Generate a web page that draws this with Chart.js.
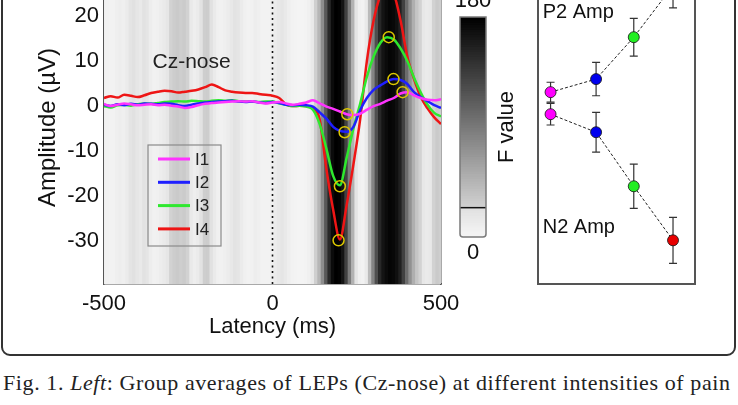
<!DOCTYPE html>
<html>
<head>
<meta charset="utf-8">
<script src="https://cdn.jsdelivr.net/npm/chart.js"></script>
<style>
  body { margin: 0; width: 738px; height: 405px; overflow: hidden; position: relative; background: #fff; }
  #frame { position: absolute; left: 1px; top: -30px; width: 735px; height: 386px; box-sizing: border-box;
           border: 2.5px solid #333; border-radius: 9px; }
  #mainBox { position: absolute; left: 0; top: -40px; width: 460px; height: 384px; }
  #barBox { position: absolute; left: 455px; top: -40px; width: 83px; height: 320px; }
  #ampBox { position: absolute; left: 536px; top: -40px; width: 161px; height: 326px; }
  #caption { position: absolute; left: 3px; top: 371px; font: 22px "Liberation Serif", serif; color: #222;
             white-space: nowrap; line-height: 24px; letter-spacing: 0.6px; }
</style>
</head>
<body>
<div id="frame"></div>
<div id="mainBox"><canvas id="lep"></canvas></div>
<div id="barBox"><canvas id="fbar"></canvas></div>
<div id="ampBox"><canvas id="amps"></canvas></div>
<div id="caption">Fig. 1. <i>Left</i>: Group averages of LEPs (Cz-nose) at different intensities of pain</div>

<script>
// ---- data ----
const latency = [-500,-480,-460,-440,-420,-400,-380,-360,-340,-320,-300,-280,-260,-240,-220,-200,-180,-160,-140,-120,-100,-80,-60,-40,-20,0,
                 20,40,60,80,100,120,140,160,180,200,220,240,260,280,300,320,340,360,380,400,420,440,460,480,500]

const ampI1 = [0.5,0.0,0.3,0.6,0.4,0.2,0.3,0.4,0.2,0.3,0.1,-0.1,-0.4,-0.2,0.2,0.5,0.7,0.8,0.9,1.0,1.1,1.0,1.1,0.8,0.6,0.8,
               0.9,0.6,0.3,0.5,0.8,1.3,0.6,-0.1,-0.6,-1.2,-1.8,-2.0,-1.7,-0.8,0.0,0.5,1.2,1.8,2.8,3.1,2.4,1.8,1.4,1.3,1.5]
const ampI2 = [0.3,0.0,0.4,0.2,0.5,0.3,0.6,0.5,0.4,0.6,0.5,0.2,0.0,0.3,0.6,0.8,0.9,1.0,1.1,1.2,1.0,0.9,1.0,0.8,0.7,0.9,
               0.7,0.3,0.2,0.3,0.2,-0.1,-1.4,-2.8,-4.6,-5.5,-5.7,-4.6,-0.9,1.8,3.6,4.6,5.5,6.0,5.8,4.9,3.1,2.0,1.1,0.2,-0.4]
const ampI3 = [0.0,-0.3,0.2,0.3,0.1,0.4,0.6,0.5,0.7,0.9,1.0,1.1,1.0,1.2,1.1,1.0,1.2,1.3,1.2,1.3,1.1,1.0,1.0,0.9,1.0,1.0,
               0.6,0.3,0.0,0.1,-0.1,-0.8,-4.0,-9.5,-15.5,-17.6,-11.5,-5.0,0.5,6.5,11,14,15.3,14.8,12.8,10,6.3,3.0,0.3,-1.5,-2.3]
const ampI4 = [1.8,2.2,1.9,2.5,2.3,2.0,2.4,2.9,3.2,3.4,3.3,3.0,3.2,3.4,3.7,4.2,4.8,4.2,3.5,3.2,3.0,2.9,2.9,2.7,2.5,2.3,
               1.8,0.4,0.0,0.1,0.0,-0.4,-3.0,-14,-23,-29.6,-22,-13,-3,10,19,24.5,26.7,25,19,11,6,2.0,-0.5,-2.5,-4.0]

// F value of the intensity effect, every 10 ms
const fTimes = [-500,-490,-480,-470,-460,-450,-440,-430,-420,-410,-400,-390,-380,-370,-360,-350,-340,-330,-320,-310,
                -300,-290,-280,-270,-260,-250,-240,-230,-220,-210,-200,-190,-180,-170,-160,-150,-140,-130,-120,-110,
                -100,-90,-80,-70,-60,-50,-40,-30,-20,-10,0,10,20,30,40,50,60,70,80,90,100,110,120,130,140,150,160,170,
                180,190,200,210,220,230,240,250,260,270,280,290,300,310,320,330,340,350,360,370,380,390,400,410,420,
                430,440,450,460,470,480,490,500]
const fValues = [8,6,5,5,8,10,8,12,20,23,18,14,22,19,10,6,7,10,13,18,
                 24,28,30,27,29,24,15,9,12,22,27,28,23,13,7,6,8,11,16,21,
                 19,12,7,5,6,10,8,5,4,5,7,11,16,19,14,9,5,3,2,2,3,7,14,26,45,75,115,150,
                 172,180,178,165,132,88,48,20,7,5,14,42,82,122,150,165,172,176,174,168,156,132,100,72,50,
                 34,24,17,13,16,24,30,27]

const seriesNames = ['I1','I2','I3','I4']
const seriesColors = ['#ff33ff','#1f1fff','#2ee82e','#ee1515']

// peak latencies (ms) and amplitudes (µV) per intensity
const n2Lat = [222,214,200,196]
const n2Amp = [-1.8,-5.8,-17.8,-29.8]
const n2Err = [2.4,4.4,4.9,5.1]
const p2Lat = [386,359,345,340]
const p2Amp = [3.1,6.0,15.3,26.7]
const p2Err = [2.2,3.7,4.2,4.9]
const intensityPos = [0.8,3.7,6.1,8.6]

const xTicks = [-500,0,500]
const yTicks = [-30,-20,-10,0,10,20]
const yMin = -39.5, yMax = 30
const fMax = 180, fThreshold = 24

function fGray(f) {
  let g = f < fThreshold ? 246 - f * 0.9 : 210 * (fMax - f) / (fMax - fThreshold)
  g = Math.max(0, Math.round(g))
  return 'rgb(' + g + ',' + g + ',' + g + ')'
}

Chart.defaults.font.family = '"Liberation Sans", Arial, sans-serif'
Chart.defaults.color = '#111'
Chart.defaults.animation = false
Chart.defaults.plugins.legend.display = false
Chart.defaults.plugins.tooltip.enabled = false

// ---- main LEP plot ----
const lepText = {
  id: 'lepText',
  afterDatasetsDraw(chart) {
    const {ctx, chartArea: a, scales: {x, y}} = chart
    ctx.save()
    ctx.fillStyle = '#222'
    ctx.font = '21px "Liberation Sans", Arial'
    ctx.textAlign = 'center'
    ctx.textBaseline = 'middle'
    ctx.fillText('Cz-nose', x.getPixelForValue(-240), y.getPixelForValue(9.8))

    // legend box
    const bx = a.left + 44, by = a.top + 174
    ctx.strokeStyle = '#8a8a8a'
    ctx.lineWidth = 1.2
    ctx.strokeRect(bx, by, 73, 101)
    ctx.font = '17px "Liberation Sans", Arial'
    ctx.textAlign = 'left'
    seriesNames.forEach((name, i) => {
      const ly = by + 14 + i * 23.3
      ctx.strokeStyle = seriesColors[i]
      ctx.lineWidth = 3
      ctx.beginPath()
      ctx.moveTo(bx + 10, ly)
      ctx.lineTo(bx + 42, ly)
      ctx.stroke()
      ctx.fillStyle = '#222'
      ctx.fillText(name, bx + 47, ly + 1)
    })
    ctx.restore()
  }
}

const waveSets = [ampI1, ampI2, ampI3, ampI4].map((amp, i) => ({
  type: 'line',
  label: seriesNames[i],
  data: latency.map((t, j) => ({x: t, y: amp[j]})),
  borderColor: seriesColors[i],
  borderWidth: 2.5,
  pointRadius: 0,
  cubicInterpolationMode: 'monotone',
  order: 2
}))

new Chart(document.getElementById('lep'), {
  type: 'line',
  data: {
    datasets: [
      {
        type: 'scatter',
        label: 'peaks',
        data: n2Lat.map((t, i) => ({x: t, y: n2Amp[i]})).concat(p2Lat.map((t, i) => ({x: t, y: p2Amp[i]}))),
        pointRadius: 5.5,
        pointBorderWidth: 1.5,
        pointBorderColor: '#ddc800',
        pointBackgroundColor: 'rgba(0,0,0,0)',
        showLine: false,
        order: 0
      },
      ...waveSets,
      {
        type: 'line',
        label: 'stimulus',
        data: [{x: 0, y: yMin}, {x: 0, y: yMax}],
        borderColor: '#111',
        borderWidth: 1.6,
        borderDash: [2, 3.5],
        pointRadius: 0,
        order: 5
      },
      {
        type: 'bar',
        label: 'F',
        data: fTimes.map(t => ({x: t, y: [yMin, yMax]})),
        backgroundColor: fValues.map(fGray),
        borderWidth: 0,
        barThickness: 4,
        order: 10
      }
    ]
  },
  options: {
    responsive: true,
    maintainAspectRatio: false,
    layout: {autoPadding: false, padding: {top: 11, right: 19, left: 30, bottom: 0}},
    scales: {
      x: {
        type: 'linear', min: -500, max: 500, offset: false,
        afterBuildTicks: s => { s.ticks = xTicks.map(v => ({value: v})) },
        afterFit: s => { s.height = 60; s.paddingLeft = 0; s.paddingRight = 0 },
        grid: {display: false, drawTicks: false},
        border: {color: '#555', width: 1.5},
        ticks: {font: {size: 22}, padding: 7, maxRotation: 0},
        title: {display: true, text: 'Latency (ms)', font: {size: 22}}
      },
      y: {
        min: yMin, max: yMax,
        afterBuildTicks: s => { s.ticks = yTicks.map(v => ({value: v})) },
        afterFit: s => { s.width = 74; s.paddingTop = 0; s.paddingBottom = 0 },
        grid: {display: false, drawTicks: false},
        border: {color: '#555', width: 1.5},
        ticks: {font: {size: 22}, padding: 5},
        title: {display: true, text: 'Amplitude (µV)', font: {size: 24}}
      },
      y2: {
        position: 'right', min: yMin, max: yMax,
        afterFit: s => { s.width = 0; s.paddingTop = 0; s.paddingBottom = 0 },
        grid: {display: false, drawTicks: false},
        ticks: {display: false},
        border: {color: '#555', width: 1.5}
      }
    }
  },
  plugins: [lepText]
})

// ---- colour bar ----
const colorStep = 2
const colorLevels = []
for (let f = 0; f < fMax; f += colorStep) colorLevels.push(f)

const barDecor = {
  id: 'barDecor',
  afterDatasetsDraw(chart) {
    const {ctx, chartArea: a, scales: {y}} = chart
    ctx.save()
    ctx.strokeStyle = '#111'
    ctx.lineWidth = 1.5
    const ty = y.getPixelForValue(fThreshold)
    ctx.beginPath()
    ctx.moveTo(a.left, ty)
    ctx.lineTo(a.right, ty)
    ctx.stroke()
    ctx.strokeStyle = '#7a7a7a'
    ctx.lineWidth = 1.5
    ctx.beginPath()
    ctx.roundRect(a.left, a.top, a.right - a.left, a.bottom - a.top, [0, 0, 3, 3])
    ctx.stroke()
    ctx.fillStyle = '#111'
    ctx.font = '22px "Liberation Sans", Arial'
    ctx.textAlign = 'center'
    ctx.textBaseline = 'middle'
    const cx = (a.left + a.right) / 2
    ctx.fillText(String(fMax), cx, y.getPixelForValue(fMax) - 16)
    ctx.fillText('0', cx, y.getPixelForValue(0) + 16)
    ctx.translate(a.right + 21, (a.top + a.bottom) / 2)
    ctx.rotate(-Math.PI / 2)
    ctx.fillText('F value', 0, 0)
    ctx.restore()
  }
}

new Chart(document.getElementById('fbar'), {
  type: 'bar',
  data: {
    labels: ['F'],
    datasets: [{
      data: colorLevels.map(f => ({x: 'F', y: [f, f + colorStep]})),
      backgroundColor: colorLevels.map(f => fGray(f + colorStep / 2)),
      borderWidth: 0,
      barPercentage: 1,
      categoryPercentage: 1,
      inflateAmount: 0.6
    }]
  },
  options: {
    responsive: true,
    maintainAspectRatio: false,
    layout: {autoPadding: false, padding: {top: 57, left: 5, right: 52, bottom: 43}},
    scales: {
      x: {display: false},
      y: {display: false, min: 0, max: fMax}
    }
  },
  plugins: [barDecor]
})

// ---- peak amplitude panel ----
const ampDecor = {
  id: 'ampDecor',
  beforeDatasetsDraw(chart) {
    const {ctx, scales: {x, y}} = chart
    ctx.save()
    ctx.strokeStyle = '#333'
    ctx.lineWidth = 1.2
    ;[[p2Amp, p2Err], [n2Amp, n2Err]].forEach(([amp, err]) => {
      amp.forEach((v, i) => {
        const px = x.getPixelForValue(intensityPos[i])
        const top = y.getPixelForValue(v + err[i]), bot = y.getPixelForValue(v - err[i])
        ctx.beginPath()
        ctx.moveTo(px, top); ctx.lineTo(px, bot)
        ctx.moveTo(px - 4, top); ctx.lineTo(px + 4, top)
        ctx.moveTo(px - 4, bot); ctx.lineTo(px + 4, bot)
        ctx.stroke()
      })
    })
    ctx.restore()
  },
  afterDraw(chart) {
    const {ctx, chartArea: a, scales: {x, y}} = chart
    ctx.save()
    ctx.strokeStyle = '#555'
    ctx.lineWidth = 2
    ctx.strokeRect(a.left, a.top, a.right - a.left, a.bottom - a.top)
    ctx.fillStyle = '#111'
    ctx.font = '20px "Liberation Sans", Arial'
    ctx.textBaseline = 'middle'
    ctx.fillText('P2 Amp', x.getPixelForValue(0.3), y.getPixelForValue(20.7))
    ctx.fillText('N2 Amp', x.getPixelForValue(0.3), y.getPixelForValue(-27.0))
    ctx.restore()
  }
}

const ampSet = (amp, label) => ({
  label: label,
  data: intensityPos.map((p, i) => ({x: p, y: amp[i]})),
  borderColor: '#222',
  borderWidth: 1,
  borderDash: [3, 2],
  pointRadius: 5.5,
  pointBorderWidth: 0.8,
  pointBorderColor: '#111',
  pointBackgroundColor: ['#ff00ff', '#0000ee', '#22ee22', '#e80000'],
  tension: 0
})

new Chart(document.getElementById('amps'), {
  type: 'line',
  data: {datasets: [ampSet(p2Amp, 'P2 Amp'), ampSet(n2Amp, 'N2 Amp')]},
  options: {
    responsive: true,
    maintainAspectRatio: false,
    layout: {autoPadding: false, padding: {top: 11, left: 2, right: 2, bottom: 2}},
    scales: {
      x: {type: 'linear', display: false, min: 0, max: 10},
      y: {display: false, min: yMin, max: yMax}
    }
  },
  plugins: [ampDecor]
})
</script>
</body>
</html>
